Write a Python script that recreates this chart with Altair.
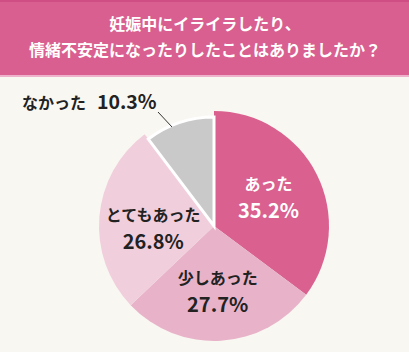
import altair as alt
import pandas as pd

categories = ["あった", "少しあった", "とてもあった", "なかった"]
values = [35.2, 27.7, 26.8, 10.3]
labels = ["35.2%", "27.7%", "26.8%", "10.3%"]
colors = ["#d9608f", "#e8b3c9", "#f1cedc", "#c9c9c9"]
title_lines = ["妊娠中にイライラしたり、", "情緒不安定になったりしたことはありましたか？"]

df = pd.DataFrame({"category": categories, "value": values, "label": labels,
                   "order": list(range(len(categories)))})
title_df = pd.DataFrame({"t": title_lines, "line": [0, 1]})

W, H = 409, 352
CX, CY, R = 214, 226, 115
FONT = "Noto Sans CJK JP"
is_gray = "datum.category == 'なかった'"

color_scale = alt.Scale(domain=categories, range=colors)

base = alt.Chart(df).encode(
    theta=alt.Theta("value:Q", stack=True),
    order=alt.Order("order:Q"),
)

arcs = base.mark_arc(radius=R, stroke=None).encode(
    x=alt.value(CX), y=alt.value(CY),
    color=alt.Color("category:N", scale=color_scale, legend=None),
    opacity=alt.condition(is_gray, alt.value(0), alt.value(1)),
)

gray_arc = base.mark_arc(radius=R - 6, stroke="white", strokeWidth=3).encode(
    x=alt.value(CX), y=alt.value(CY),
    color=alt.Color("category:N", scale=color_scale, legend=None),
    opacity=alt.condition(is_gray, alt.value(1), alt.value(0)),
)

# per-slice vertical shift of the inside labels (category line, percentage line)
label_shift = {"あった": 0, "少しあった": 6, "とてもあった": 9}

inside_layers = []
for cat, shift in label_shift.items():
    sel = f"datum.category == '{cat}'"
    col = "white" if cat == "あった" else "#222222"
    inside_layers.append(base.mark_text(radius=61, dy=-14 + shift, font=FONT, fontSize=16,
                                        fontWeight="bold", color=col).encode(
        x=alt.value(CX), y=alt.value(CY),
        text="category:N",
        opacity=alt.condition(sel, alt.value(1), alt.value(0)),
    ))
    inside_layers.append(base.mark_text(radius=61, dy=13 + shift, font=FONT, fontSize=20,
                                        fontWeight="bold", color=col).encode(
        x=alt.value(CX), y=alt.value(CY),
        text="label:N",
        opacity=alt.condition(sel, alt.value(1), alt.value(0)),
    ))

gray_src = alt.Chart(df).transform_filter(is_gray)
gray_cat = gray_src.mark_text(font=FONT, fontSize=16, fontWeight="bold", align="left",
                              baseline="middle", color="#222222").encode(
    x=alt.value(22), y=alt.value(104), text="category:N")
gray_pct = gray_src.mark_text(font=FONT, fontSize=19.5, fontWeight="bold", align="left",
                              baseline="middle", color="#222222").encode(
    x=alt.value(97), y=alt.value(103), text="label:N")
leader = gray_src.mark_rule(color="#333333", strokeWidth=1).encode(
    x=alt.value(158), y=alt.value(112), x2=alt.value(172), y2=alt.value(127))

one = alt.Chart(title_df).transform_filter("datum.line == 0")
banner = one.mark_rect(color="#d95f90").encode(
    x=alt.value(0), x2=alt.value(W), y=alt.value(0), y2=alt.value(76))
banner_top = one.mark_rect(color="#cf4f84").encode(
    x=alt.value(0), x2=alt.value(W), y=alt.value(0), y2=alt.value(2))
banner_bot = one.mark_rect(color="#eeb3ca").encode(
    x=alt.value(0), x2=alt.value(W), y=alt.value(75), y2=alt.value(77))

title1 = one.mark_text(
    font=FONT, fontSize=16, fontWeight="bold", color="white", align="center", baseline="middle").encode(
    x=alt.value(205), y=alt.value(25), text="t:N")
title2 = alt.Chart(title_df).transform_filter("datum.line == 1").mark_text(
    font=FONT, fontSize=16, fontWeight="bold", color="white", align="center", baseline="middle").encode(
    x=alt.value(205), y=alt.value(51), text="t:N")

chart = alt.layer(
    banner, banner_top, banner_bot, title1, title2,
    arcs, gray_arc, *inside_layers, gray_cat, gray_pct, leader,
).properties(
    width=W, height=H, background="#f9f7f2", padding=0,
    autosize=alt.AutoSizeParams(type="none"),
).configure_view(stroke=None)

chart.save("out.html", embed_options={"renderer": "svg", "actions": False})
